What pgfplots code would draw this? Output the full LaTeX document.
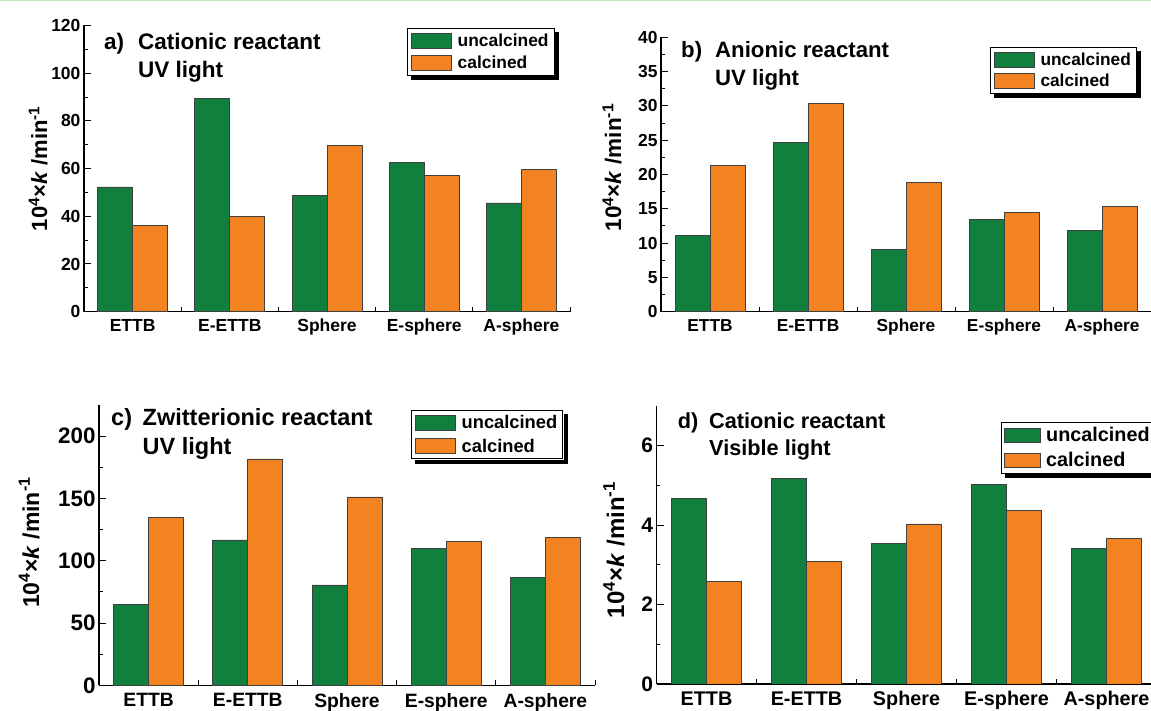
\documentclass[border=0pt]{standalone}
\usepackage{fontspec}
\setmainfont{Liberation Sans}
\usepackage{pgfplots}
\pgfplotsset{compat=1.18}
\usetikzlibrary{calc}
\definecolor{bargreen}{RGB}{17,128,62}
\definecolor{barorange}{RGB}{243,130,32}
\definecolor{topgreen}{RGB}{190,228,190}

\pgfplotsset{
  lgbig/.style={legend image code/.code={\draw[##1] (0pt,-7.5pt) rectangle (40pt,7.5pt);}},
  lgd/.style={legend image code/.code={\draw[##1] (0pt,-7pt) rectangle (36pt,7pt);}},
  panel/.style={
    scale only axis,
    ybar=0pt, bar width=35pt,
    xmin=-0.5, xmax=4.5, ymin=0,
    xtick={-0.5,0.5,1.5,2.5,3.5,4.5},
    xticklabels={},
    xtick style={/pgfplots/major tick length=5pt},
    extra x ticks={0,1,2,3,4},
    extra x tick labels={ETTB,E-ETTB,Sphere,E-sphere,A-sphere},
    extra x tick style={/pgfplots/major tick length=0pt, tick style={draw=none}},
    axis x line*=bottom, axis y line*=left,
    axis line style={line width=1.3pt, -},
    tick align=inside,
    minor y tick num=1,
    major tick length=7pt, minor tick length=3.5pt,
    tick style={line width=1pt, black},
    /pgf/number format/assume math mode=true,
    legend cell align=left,
    every axis plot/.append style={draw=black!75, line width=0.7pt},
    legend style={anchor=north west, draw=black, line width=1pt, fill=white,
      inner xsep=3.5pt, inner ysep=3pt, row sep=4.5pt,
      /tikz/every odd column/.append style={column sep=4pt}},
  },
}
\newcommand{\legshadow}[1]{%
  \fill[black] ($(#1.south west)+(4pt,-4.5pt)$) rectangle ($(#1.south east)+(4.5pt,-0.5pt)$);
  \fill[black] ($(#1.north east)+(0.5pt,-4pt)$) rectangle ($(#1.south east)+(4.5pt,-4.5pt)$);}

\begin{document}
\begin{tikzpicture}[x=1pt,y=1pt]
\path[use as bounding box] (0,0) rectangle (1151,711);
\clip (0,0) rectangle (1151,711);
\fill[white] (0,0) rectangle (1151,711);

% ---------- a ----------
\begin{axis}[panel, at={(84pt,399.3pt)}, anchor=south west, width=486pt, height=286.2pt,
  ymax=120, ytick={0,20,...,120},
  yticklabel style={font=\bfseries\fontsize{17.5}{20}\selectfont},
  xticklabel style={font=\bfseries\fontsize{17.5}{20}\selectfont, yshift=-4pt},
  legend style={name=legA, at={(0.6646,0.9913)}, font=\bfseries\fontsize{17.4}{20}\selectfont}]
\addplot[fill=bargreen, lgbig] coordinates {(0,52.3) (1,89.4) (2,48.8) (3,62.5) (4,45.6)};
\addplot[fill=barorange, lgbig] coordinates {(0,36.0) (1,40.0) (2,69.7) (3,57.2) (4,59.8)};
\legend{uncalcined,calcined}
\end{axis}
\legshadow{legA}

% ---------- b ----------
\begin{axis}[panel, at={(661pt,399.3pt)}, anchor=south west, width=490pt, height=274.4pt,
  ymax=40, ytick={0,5,...,40},
  yticklabel style={font=\bfseries\fontsize{17.4}{20}\selectfont},
  xticklabel style={font=\bfseries\fontsize{17.3}{20}\selectfont, yshift=-4pt},
  legend style={name=legB, at={(0.671,0.9646)}, font=\bfseries\fontsize{17.3}{20}\selectfont, row sep=3.5pt}]
\addplot[fill=bargreen, lgbig] coordinates {(0,11.1) (1,24.7) (2,9.1) (3,13.5) (4,11.8)};
\addplot[fill=barorange, lgbig] coordinates {(0,21.3) (1,30.3) (2,18.8) (3,14.5) (4,15.3)};
\legend{uncalcined,calcined}
\end{axis}
\legshadow{legB}

% ---------- c ----------
\begin{axis}[panel, at={(99pt,25.5pt)}, anchor=south west, width=496pt, height=280.5pt,
  ymax=225, ytick={0,50,...,200},
  yticklabel style={font=\bfseries\fontsize{22.4}{24}\selectfont},
  xticklabel style={font=\bfseries\fontsize{19.3}{22}\selectfont, yshift=-4pt},
  legend style={name=legC, at={(0.629,0.982)}, font=\bfseries\fontsize{18.3}{21}\selectfont}]
\addplot[fill=bargreen, lgbig] coordinates {(0,65.0) (1,116.8) (2,80.7) (3,110.2) (4,86.6)};
\addplot[fill=barorange, lgbig] coordinates {(0,134.5) (1,181.8) (2,151.3) (3,115.5) (4,118.7)};
\legend{uncalcined,calcined}
\end{axis}
\legshadow{legC}

% ---------- d ----------
\begin{axis}[panel, at={(656.5pt,27pt)}, anchor=south west, width=500pt, height=278pt,
  ymax=7, ytick={0,2,4,6},
  yticklabel style={font=\bfseries\fontsize{21}{24}\selectfont},
  xticklabel style={font=\bfseries\fontsize{19.8}{22}\selectfont, yshift=-4pt},
  legend style={name=legD, at={(0.689,0.942)}, font=\bfseries\fontsize{19.8}{22}\selectfont, row sep=5pt, inner xsep=2pt}]
\addplot[fill=bargreen, lgd] coordinates {(0,4.68) (1,5.18) (2,3.55) (3,5.02) (4,3.41)};
\addplot[fill=barorange, lgd] coordinates {(0,2.58) (1,3.08) (2,4.03) (3,4.37) (4,3.66)};
\legend{uncalcined,calcined}
\end{axis}
\legshadow{legD}

% ---------- titles ----------
\begin{scope}[every node/.style={anchor=base west, inner sep=0pt, font=\bfseries\fontsize{22.5}{26}\selectfont}]
\node at (104,661) {a)};
\node at (138,661) {Cationic reactant};
\node at (138,633) {UV light};
\node[font=\bfseries\fontsize{22.2}{26}\selectfont] at (681,653) {b)};
\node[font=\bfseries\fontsize{22.2}{26}\selectfont] at (715,653) {Anionic reactant};
\node[font=\bfseries\fontsize{22.2}{26}\selectfont] at (715,625) {UV light};
\node[font=\bfseries\fontsize{23.5}{26}\selectfont] at (111,285) {c)};
\node[font=\bfseries\fontsize{23.5}{26}\selectfont] at (142.5,285) {Zwitterionic reactant};
\node[font=\bfseries\fontsize{23.5}{26}\selectfont] at (142.5,256) {UV light};
\node[font=\bfseries\fontsize{21.7}{26}\selectfont] at (677.6,282) {d)};
\node[font=\bfseries\fontsize{21.7}{26}\selectfont] at (709,282) {Cationic reactant};
\node[font=\bfseries\fontsize{21.7}{26}\selectfont] at (709,255) {Visible light};
\end{scope}

% ---------- y labels ----------
\begin{scope}[every node/.style={rotate=90, anchor=base, inner sep=0pt}]
\node[font=\bfseries\fontsize{22}{26}\selectfont] at (47,542.5) {10\textsuperscript{4}×\textit{k} /min\textsuperscript{-1}};
\node[font=\bfseries\fontsize{22.5}{26}\selectfont] at (621,543.5) {10\textsuperscript{4}×\textit{k} /min\textsuperscript{-1}};
\node[font=\bfseries\fontsize{23}{26}\selectfont] at (39,168.5) {10\textsuperscript{4}×\textit{k} /min\textsuperscript{-1}};
\node[font=\bfseries\fontsize{24}{26}\selectfont] at (624,161) {10\textsuperscript{4}×\textit{k} /min\textsuperscript{-1}};
\end{scope}

\draw[topgreen, line width=2pt] (0,711) -- (1151,711);
\end{tikzpicture}
\end{document}
